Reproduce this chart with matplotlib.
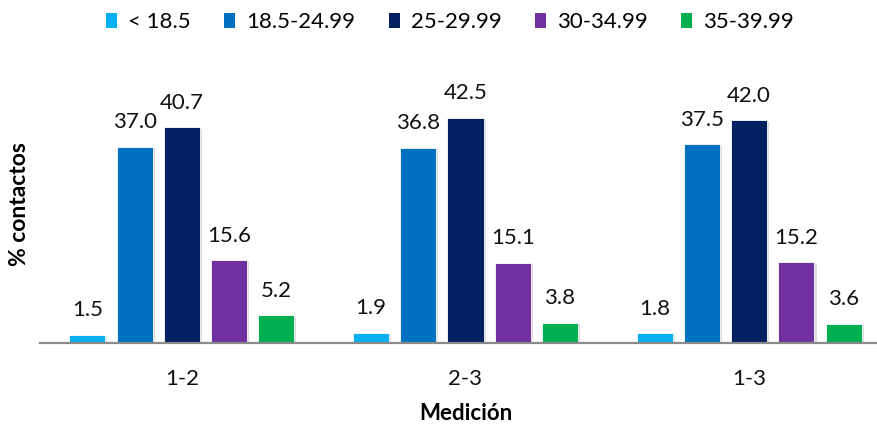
import numpy as np
import matplotlib.pyplot as plt
from matplotlib.patches import Patch
import matplotlib.patheffects as pe

plt.rcParams['font.family'] = ['Lato', 'DejaVu Sans']

mediciones = ['1-2', '2-3', '1-3']
series = ['< 18.5', '18.5-24.99', '25-29.99', '30-34.99', '35-39.99']
bajo_peso = [1.5, 1.9, 1.8]
normal = [37.0, 36.8, 37.5]
sobrepeso = [40.7, 42.5, 42.0]
obesidad_1 = [15.6, 15.1, 15.2]
obesidad_2 = [5.2, 3.8, 3.6]
colores = ['#00B0F0', '#0070C0', '#002060', '#7030A0', '#00B050']

valores = [bajo_peso, normal, sobrepeso, obesidad_1, obesidad_2]

fig = plt.figure(figsize=(8.77, 4.25), dpi=100)
ax = fig.add_axes([40 / 877, 82 / 425, 851 / 877, 265 / 425])

x = np.arange(len(mediciones))
paso = 1 / 6
ancho = 0.127
sombra = [pe.SimplePatchShadow(offset=(1.5, -1.0), shadow_rgbFace='#9a9a9a', alpha=0.35), pe.Normal()]

for i, (nombre, vals, col) in enumerate(zip(series, valores, colores)):
    pos = x + (i - 2) * paso
    barras = ax.bar(pos, vals, width=ancho, color=col, edgecolor='white', linewidth=0.6,
                    label=nombre, zorder=3)
    for b in barras:
        b.set_path_effects(sombra)
    for xp, v in zip(pos, vals):
        ax.annotate(f'{v:.1f}', (xp, v), xytext=(0, 13.5), textcoords='offset points',
                    ha='center', va='baseline', fontsize=16, color='#111111')

ax.set_xlim(-0.5, 2.5)
ax.set_ylim(0, 50)
ax.set_xticks(x)
ax.set_xticklabels(mediciones, fontsize=16, color='#111111')
ax.tick_params(axis='x', length=0, pad=19)
ax.set_yticks([])
for lado in ['top', 'right', 'left']:
    ax.spines[lado].set_visible(False)
ax.spines['bottom'].set_color('#8a8a8a')
ax.spines['bottom'].set_linewidth(1.6)
ax.spines['bottom'].set_zorder(4)

ax.set_xlabel('Medición', fontsize=16, fontweight='bold', labelpad=10)
fig.text(20 / 877, 1 - 204 / 425, '% contactos', rotation=90, fontsize=16.5,
         fontweight='bold', ha='center', va='center')

handles = [Patch(facecolor=c, edgecolor='none') for c in colores]
fig.legend(handles, series, loc='center', bbox_to_anchor=(450 / 877, 1 - 22 / 425),
           ncol=5, frameon=False, fontsize=16, handlelength=0.5, handleheight=0.65,
           handletextpad=0.5, columnspacing=1.5)

fig.savefig('out.png', dpi=100)
